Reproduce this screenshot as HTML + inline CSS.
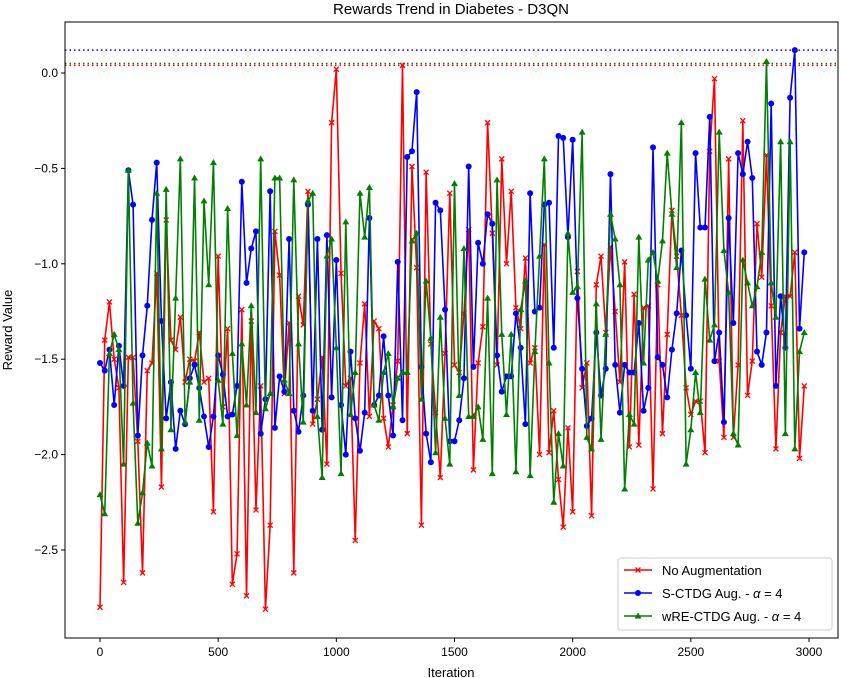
<!DOCTYPE html>
<html><head><meta charset="utf-8"><style>
body{margin:0;background:#fff;}
svg{display:block;font-family:"Liberation Sans","DejaVu Sans",sans-serif;}
</style></head><body>
<svg id="c" width="841" height="678" xmlns="http://www.w3.org/2000/svg">
<text x="451" y="14" text-anchor="middle" font-size="15">Rewards Trend in Diabetes - D3QN</text>
<g id="plot"></g>
<rect x="65" y="22" width="773" height="616" fill="none" stroke="#000" stroke-width="1"/>
<g id="axes"></g>
<text x="451" y="677" text-anchor="middle" font-size="13">Iteration</text>
<text transform="translate(12,330) rotate(-90)" text-anchor="middle" font-size="13">Reward Value</text>
<g>
<rect x="618" y="558" width="214" height="72" rx="3" fill="#fff" fill-opacity="0.85" stroke="#ccc"/>
<g><line x1="624" y1="570" x2="652" y2="570" stroke="red" stroke-width="1.5"/><path d="M635.5,567.5L640.5,572.5M635.5,572.5L640.5,567.5" stroke="red" stroke-width="1.3"/><text x="662" y="575" font-size="13">No Augmentation</text></g>
<g><line x1="624" y1="593" x2="652" y2="593" stroke="blue" stroke-width="1.5"/><circle cx="638" cy="593" r="3" fill="blue"/><text x="662" y="598" font-size="13">S-CTDG Aug. - <tspan font-style="italic">α</tspan> = 4</text></g>
<g><line x1="624" y1="616" x2="652" y2="616" stroke="green" stroke-width="1.5"/><path d="M638,612.5 L641.5,618.5 L634.5,618.5Z" fill="green"/><text x="662" y="621" font-size="13">wRE-CTDG Aug. - <tspan font-style="italic">α</tspan> = 4</text></g>
</g>
</svg>
<script>
const xTicks=[0,500,1000,1500,2000,2500,3000];
const yTicks=[0.0,-0.5,-1.0,-1.5,-2.0,-2.5];
const yTickLabels=["0.0","−0.5","−1.0","−1.5","−2.0","−2.5"];
const step=20;
const thresholds=[0.12,0.05,0.04];
const noAug=[-2.80,-1.40,-1.20,-1.50,-1.65,-2.67,-1.49,-1.49,-1.93,-2.62,-1.56,-1.52,-1.05,-2.17,-0.77,-1.40,-1.45,-1.28,-1.62,-1.50,-1.51,-1.36,
-1.62,-1.60,-2.30,-0.96,-1.75,-1.34,-2.68,-2.52,-1.24,-2.74,-1.30,-2.29,-1.64,-2.81,-2.37,-0.83,-1.06,-1.68,-1.31,-2.62,-1.17,-1.32,-0.62,-1.84,-1.71,-1.49,-2.05,
-0.26,0.02,-1.05,-1.64,-1.60,-2.45,-1.52,-1.21,-1.80,-1.30,-1.34,-1.81,-1.96,-1.74,-1.51,0.04,-1.89,-0.49,-1.02,-2.37,-0.52,-1.42,-1.78,-2.12,-1.47,-0.63,-1.53,-1.57,-1.26,-0.82,
-2.08,-1.52,-1.33,-0.26,-0.84,-1.53,-0.45,-1.00,-0.62,-1.23,-1.34,-0.97,-1.52,-1.44,-2.00,-0.90,-1.99,-1.77,-2.13,-2.38,-1.86,-2.30,-1.04,-1.65,-1.52,-2.32,-1.11,-0.96,
-1.36,-0.91,-1.25,-1.62,-0.99,-1.96,-1.16,-1.95,-1.23,-1.22,-2.18,-1.11,-1.89,-1.37,-0.72,-0.96,-1.27,-1.65,-1.79,-1.72,-1.72,-1.99,-0.41,-0.03,
-1.51,-1.91,-0.45,-1.91,-1.53,-0.25,-1.69,-1.51,-0.79,-1.07,-0.43,-1.22,-1.97,-1.36,-1.17,-1.17,-0.94,-2.02,-1.64];
const sCtdg=[-1.52,-1.56,-1.45,-1.74,-1.43,-1.64,-0.51,-0.69,-1.90,-1.48,-1.22,-0.77,-0.47,-1.30,-1.81,-1.62,-1.97,-1.77,-1.84,-1.60,-1.53,-1.65,
-1.80,-1.96,-1.80,-1.48,-1.58,-1.80,-1.79,-1.64,-0.57,-1.10,-0.92,-0.83,-1.89,-1.71,-0.62,-1.86,-1.59,-1.67,-0.87,-1.77,-1.88,-1.69,-0.69,-1.77,-0.87,-1.87,-0.85,
-1.70,-0.98,-1.74,-2.00,-1.46,-1.81,-1.98,-1.78,-0.76,-1.74,-1.69,-1.38,-1.69,-1.90,-0.99,-1.82,-0.44,-0.41,-0.10,-1.54,-1.89,-2.04,-0.68,-0.72,-1.24,-1.93,-1.93,-1.82,-1.60,-0.49,
-1.54,-0.89,-1.00,-0.74,-0.79,-1.48,-1.67,-1.59,-1.59,-1.26,-1.44,-1.84,-0.63,-1.25,-1.23,-0.69,-0.68,-1.44,-0.33,-0.34,-0.86,-0.35,-1.18,-1.55,-1.85,-1.81,-1.36,-1.69,
-1.55,-0.53,-1.53,-1.78,-1.53,-1.57,-1.57,-1.31,-1.77,-1.65,-0.39,-1.49,-1.53,-1.70,-1.45,-1.26,-0.93,-1.27,-1.55,-0.42,-0.81,-0.81,-0.23,-1.51,
-1.36,-1.83,-0.76,-1.31,-0.42,-0.53,-0.36,-0.55,-1.46,-1.53,-1.36,-0.16,-1.64,-1.17,-1.44,-0.13,0.12,-1.34,-0.94];
const wreCtdg=[-2.21,-2.31,-1.47,-1.37,-1.45,-2.05,-0.51,-1.73,-2.36,-2.20,-1.94,-2.06,-0.63,-1.97,-0.61,-1.87,-1.18,-0.45,-1.83,-1.62,-0.55,-1.82,
-0.67,-1.11,-0.47,-1.61,-1.84,-0.71,-1.47,-1.90,-1.42,-1.74,-1.22,-1.78,-0.45,-1.76,-1.68,-0.55,-0.55,-1.61,-1.68,-0.56,-1.42,-1.83,-0.67,-0.63,-1.80,-2.12,-0.96,
-0.87,-1.44,-2.10,-0.78,-1.79,-1.57,-0.63,-0.86,-0.60,-1.74,-1.82,-1.57,-1.47,-1.75,-1.60,-1.57,-1.57,-0.88,-0.84,-1.71,-1.09,-1.39,-1.99,-1.28,-1.81,-2.05,-0.58,-1.69,-0.92,-1.80,
-1.80,-1.75,-1.92,-1.18,-2.10,-0.56,-1.37,-1.79,-1.37,-2.09,-1.24,-1.09,-2.11,-1.46,-0.96,-0.45,-1.52,-2.25,-1.89,-2.06,-0.84,-1.15,-1.12,-0.31,-1.91,-1.97,-1.21,-1.92,
-1.37,-0.74,-0.87,-1.11,-2.18,-1.79,-1.84,-0.86,-1.52,-0.98,-0.94,-1.09,-0.88,-0.42,-0.74,-1.02,-0.26,-2.05,-1.87,-1.57,-1.78,-1.08,-1.40,-1.32,
-0.31,-0.93,-1.15,-1.89,-1.95,-0.98,-1.10,-1.22,-1.12,-0.94,0.06,-1.10,-1.28,-0.36,-1.89,-0.36,-1.97,-1.46,-1.36];
const NS="http://www.w3.org/2000/svg";
const xS=v=>100+v*(709/3000);
const yS=v=>73-v*190.8;
const plot=document.getElementById('plot'),axes=document.getElementById('axes');
function mk(tag,attrs,parent){const e=document.createElementNS(NS,tag);for(const k in attrs)e.setAttribute(k,attrs[k]);parent.appendChild(e);return e;}
xTicks.forEach(t=>{
  const g=mk('g',{},axes);
  
  
  mk('line',{x1:xS(t),x2:xS(t),y1:638,y2:642,stroke:'#000'},g);
  const tx=mk('text',{x:xS(t),y:656,'text-anchor':'middle','font-size':12},g);tx.textContent=t;
});
yTicks.forEach((t,i)=>{
  const g=mk('g',{},axes);
  
  
  mk('line',{x1:61,x2:65,y1:yS(t),y2:yS(t),stroke:'#000'},g);
  const tx=mk('text',{x:58,y:yS(t)+4,'text-anchor':'end','font-size':12},g);tx.textContent=yTickLabels[i];
});
const thrColors=['blue','green','red'];
thresholds.forEach((v,i)=>{
  const l=mk('line',{x1:65,x2:838,y1:yS(v),y2:yS(v),stroke:thrColors[i],'stroke-width':1.5,'stroke-dasharray':'1.5,3'},plot);
  
  
});
function series(data,color,marker,name){
  const g=mk('g',{},plot);
  
  
  const pts=data.map((v,i)=>xS(i*step)+','+yS(v)).join(' ');
  mk('polyline',{points:pts,fill:'none',stroke:color,'stroke-width':1.6,'stroke-linejoin':'round'},g);
  data.forEach((v,i)=>{
    const x=xS(i*step),y=yS(v);let m;
    if(marker==='x'){m=mk('path',{d:`M${x-2.5},${y-2.5}L${x+2.5},${y+2.5}M${x-2.5},${y+2.5}L${x+2.5},${y-2.5}`,stroke:color,'stroke-width':1.3},g);}
    else if(marker==='o'){m=mk('circle',{cx:x,cy:y,r:3,fill:color},g);}
    else{m=mk('path',{d:`M${x},${y-3.5}L${x+3.5},${y+2.5}L${x-3.5},${y+2.5}Z`,fill:color},g);}
    
    
  });
}
series(noAug,'red','x','no-augmentation');
series(sCtdg,'blue','o','s-ctdg');
series(wreCtdg,'green','^','wre-ctdg');
</script>
</body></html>
